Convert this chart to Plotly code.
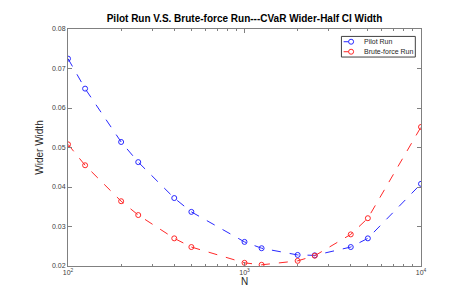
import plotly.graph_objects as go

N = [100, 125, 200, 250, 400, 500, 1000, 1250, 2000, 2500, 4000, 5000, 10000]
pilot = [0.0725, 0.0649, 0.0514, 0.0463, 0.0372, 0.0337, 0.0261, 0.0245, 0.0228, 0.0227, 0.0248, 0.0270, 0.0408]
brute = [0.0508, 0.0455, 0.0364, 0.0329, 0.0270, 0.0248, 0.0208, 0.0203, 0.0213, 0.0226, 0.0280, 0.0321, 0.0552]
series_names = ["Pilot Run", "Brute-force Run"]
series_colors = ["rgb(40,40,255)", "rgb(255,40,40)"]

x_major = [100, 1000, 10000]
x_major_text = ["10<sup>2</sup>", "10<sup>3</sup>", "10<sup>4</sup>"]
x_minor = [200, 300, 400, 500, 600, 700, 800, 900, 2000, 3000, 4000, 5000, 6000, 7000, 8000, 9000]
y_ticks = [0.02, 0.03, 0.04, 0.05, 0.06, 0.07, 0.08]

FONT = "Liberation Sans, Arial, sans-serif"

fig = go.Figure()
for name, ys, col in zip(series_names, [pilot, brute], series_colors):
    fig.add_trace(go.Scatter(
        x=N, y=ys, name=name, mode="lines+markers", showlegend=False,
        line=dict(color=col, width=1, dash="dash"),
        marker=dict(symbol="circle-open", size=5, color=col, line=dict(width=1)),
    ))

axis_common = dict(
    showline=True, linecolor="#808080", linewidth=1, mirror="allticks",
    ticks="inside", tickcolor="#808080", ticklen=4, showgrid=False, zeroline=False,
    tickfont=dict(family=FONT, size=7, color="#404040"),
)

fig.update_xaxes(
    type="log", range=[2, 4], tickmode="array", tickvals=x_major, ticktext=x_major_text,
    minor=dict(tickmode="array", tickvals=x_minor, ticks="inside", ticklen=2, tickcolor="#808080", showgrid=False),
    title=dict(text="N", font=dict(family=FONT, size=10, color="#262626"), standoff=0),
    **axis_common,
)
fig.update_yaxes(
    range=[0.02, 0.08], tickmode="array", tickvals=y_ticks, tickformat=".2f",
    title=dict(text="Wider Width", font=dict(family=FONT, size=10, color="#262626"), standoff=6),
    **axis_common,
)

# compact MATLAB-style legend drawn in paper coordinates
shapes = [dict(type="rect", xref="paper", yref="paper", x0=0.7746, x1=0.9839, y0=0.8817, y1=0.9687,
               line=dict(color="#404040", width=1), fillcolor="white", layer="above")]
annotations = []
for i, (name, col) in enumerate(zip(series_names, series_colors)):
    yy = 0.9463 - i * 0.0422
    shapes.append(dict(type="line", xref="paper", yref="paper", x0=0.7808, x1=0.8246, y0=yy, y1=yy,
                       line=dict(color=col, width=1, dash="dash"), layer="above"))
    shapes.append(dict(type="circle", xref="paper", yref="paper", xsizemode="pixel", ysizemode="pixel",
                       xanchor=0.802, yanchor=yy, x0=-2.5, x1=2.5, y0=-2.5, y1=2.5,
                       line=dict(color=col, width=1), fillcolor="white", layer="above"))
    annotations.append(dict(text=name, xref="paper", yref="paper", x=0.833, y=yy, xanchor="left",
                            yanchor="middle", showarrow=False,
                            font=dict(family=FONT, size=7, color="#262626")))

fig.update_layout(
    width=457, height=290,
    margin=dict(l=59.5, r=44, t=21.3, b=32),
    paper_bgcolor="white", plot_bgcolor="white",
    title=dict(text="<b>Pilot Run V.S. Brute-force Run---CVaR Wider-Half CI Width</b>",
               font=dict(family=FONT, size=10, color="black"),
               x=0.5, xref="paper", xanchor="center", y=1, yref="paper", yanchor="bottom", pad=dict(b=7)),
    shapes=shapes, annotations=annotations,
    showlegend=False,
)

fig.write_html("out.html")
